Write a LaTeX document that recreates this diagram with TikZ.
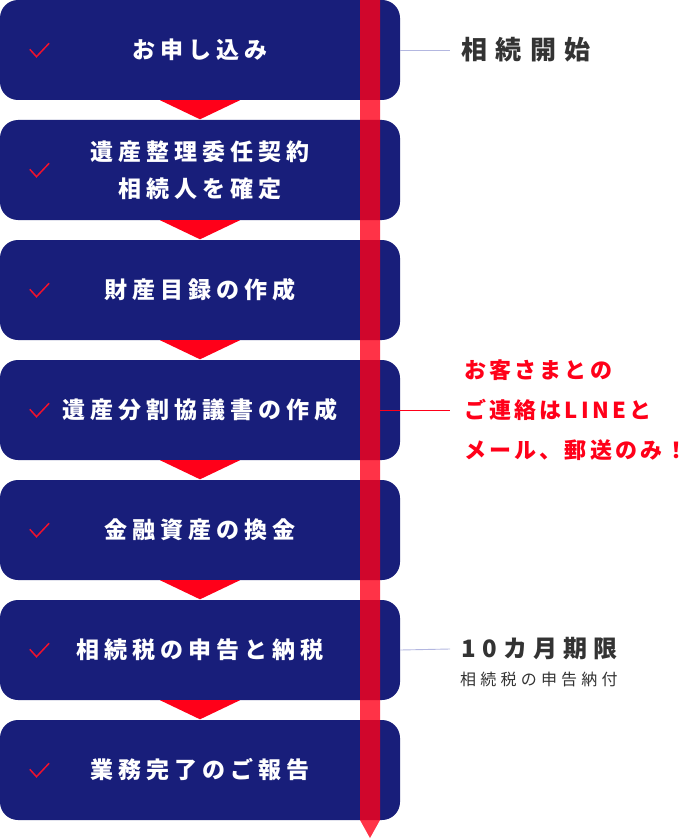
\documentclass[tikz,border=0pt]{standalone}
\usepackage{fontspec}
\setmainfont{Noto Sans CJK JP}
\usetikzlibrary{calc}
\definecolor{navy}{HTML}{181E7A}
\definecolor{tred}{HTML}{FF0019}
\definecolor{chk}{HTML}{F0102D}
\definecolor{lav}{HTML}{B3B7E0}
\definecolor{dgray}{HTML}{333333}
\makeatletter
\newcommand\trk[2]{\def\trk@sep{}\@tfor\trk@c:=#2\do{\trk@sep\trk@c\def\trk@sep{\kern#1}}}
\makeatother
\tikzset{
  stepbox/.style={fill=navy, rounded corners=18pt, minimum width=400pt, minimum height=100pt,
    inner sep=0pt, text=white, align=center, font=\fontsize{23}{37}\selectfont\bfseries},
  checkmark/.style={draw=chk, line width=1.5pt, line join=miter},
  tri/.style={fill=tred},
  bar/.style={fill=tred, opacity=0.8},
  lavline/.style={draw=lav, line width=0.9pt},
  redline/.style={draw=tred, line width=0.9pt},
  biglabel/.style={anchor=west, inner sep=0pt, text=dgray, font=\fontsize{26}{30}\selectfont\bfseries},
  redlabel/.style={anchor=west, inner sep=0pt, text=tred, font=\fontsize{22}{26}\selectfont\bfseries},
}
\begin{document}
\begin{tikzpicture}[x=1pt,y=-1pt]
\useasboundingbox (0,0) rectangle (681,840);
% boxes
\node[stepbox] (b1) at (200,50) {\trk{5pt}{お申し込み}};
\node[stepbox] (b2) at (200,170) {\trk{5pt}{遺産整理委任契約}\\\trk{5pt}{相続人を確定}};
\node[stepbox] (b3) at (200,290) {\trk{5pt}{財産目録の作成}};
\node[stepbox] (b4) at (200,410) {\trk{5pt}{遺産分割協議書の作成}};
\node[stepbox] (b5) at (200,530) {\trk{5pt}{金融資産の換金}};
\node[stepbox] (b6) at (200,650) {\trk{5pt}{相続税の申告と納税}};
\node[stepbox] (b7) at (200,770) {\trk{5pt}{業務完了のご報告}};
% check marks
\foreach \b in {b1,b2,b3,b4,b5,b6,b7}{
  \draw[checkmark, shift={(\b.west)}] (30,-0.7) -- (36.7,6.7) -- (49.3,-6.7);
}
% triangles between steps
\foreach \a/\b in {b1/b2,b2/b3,b3/b4,b4/b5,b5/b6,b6/b7}{
  \fill[tri] ($(\a.south)+(-40,0)$) -- ($(\a.south)+(40,0)$) -- ($(\b.north)+(0,-0.5)$) -- cycle;
}
% timeline bar
\fill[bar] (360,0) -- (380,0) -- (380,820) -- (370,838) -- (360,820) -- cycle;
% labels
\node[biglabel] (l1) at (461,50) {\trk{8.4pt}{相続開始}};
\draw[lavline] (b1.east) -- ($(l1.west)+(-11,0)$);

\node[redlabel] (r1) at (464,370) {\trk{3.2pt}{お客さまとの}};
\node[redlabel] (r2) at (464,410) {\trk{3.2pt}{ご連絡はLINEと}};
\node[redlabel] (r3) at (464,450) {\trk{3.2pt}{メール、郵送のみ{\makebox[14pt][l]{！}}}};
\coordinate (bar4) at (380,410);
\draw[redline] (bar4) -- ($(r2.west)+(-14,0)$);

\node[biglabel, font=\fontsize{24}{28}\selectfont\bfseries] (l2) at (461,649) {\trk{6.3pt}{10カ月期限}};
\node[anchor=west, inner sep=0pt, text=dgray, font=\fontsize{16}{20}\selectfont] (l3) at (460,679) {\trk{4.2pt}{相続税の申告納付}};
\draw[lavline] (b6.east) -- ($(l2.west)+(-11,0)$);
\end{tikzpicture}
\end{document}
